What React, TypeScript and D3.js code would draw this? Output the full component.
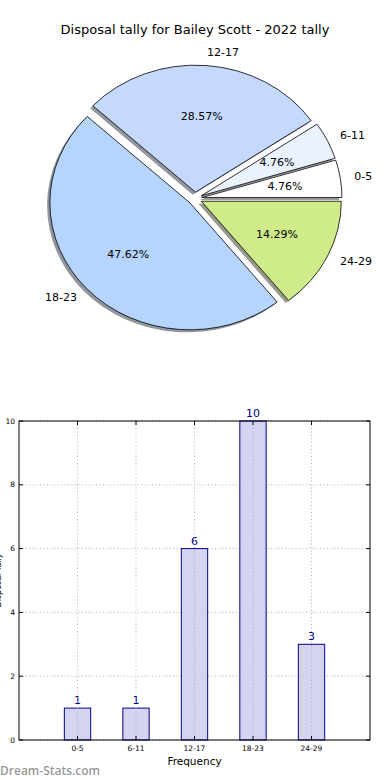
import React from "react";
import * as d3 from "d3";

const categories = ["0-5", "6-11", "12-17", "18-23", "24-29"];
const tally = [1, 1, 6, 10, 3];
const pieColors = ["#ffffff", "#eaf2ff", "#c5d9ff", "#b5d5ff", "#d0eb8a"];
const yTicks = [0, 2, 4, 6, 8, 10];
const title = "Disposal tally for Bailey Scott - 2022 tally";
const xLabel = "Frequency";
const yLabel = "Disposal Tally";
const watermark = "Dream-Stats.com";

const FONT = "'DejaVu Sans', Verdana, sans-serif";

export default function App() {
  const W = 390, H = 780;
  // Pie geometry
  const cx = 195, cy = 198.5, rx = 140, ry = 127, R = 100;
  const explode = 0.05;
  const total = d3.sum(tally);
  const pie = d3.pie<number>().sort(null).startAngle(Math.PI / 2).endAngle(Math.PI / 2 - 2 * Math.PI);
  const arcs = pie(tally);
  const arcGen = d3.arc<d3.PieArcDatum<number>>().innerRadius(0).outerRadius(R);
  const sx = rx / R, sy = ry / R;

  // Bar geometry
  const left = 19, right = 370, top = 421, bottom = 740;
  const x = d3.scaleLinear().domain([-1, 5]).range([left, right]);
  const y = d3.scaleLinear().domain([0, 10]).range([bottom, top]);
  const bw = 0.45;

  return (
    <svg width={W} height={H} style={{ position: "absolute", left: 0, top: 0, display: "block", background: "#fff" }} fontFamily={FONT}>
      <text x={195} y={34} textAnchor="middle" fontSize={13} fill="#000">{title}</text>
      {arcs.map((a, i) => {
        const mid = Math.PI / 2 - (a.startAngle + a.endAngle) / 2;
        const ox = cx + explode * rx * Math.cos(mid);
        const oy = cy - explode * ry * Math.sin(mid);
        const d = arcGen(a) || "";
        const shColor = d3.rgb(pieColors[i]);
        const shadow = d3.rgb(shColor.r * 0.3, shColor.g * 0.3, shColor.b * 0.3).formatHex();
        const lx = ox + 1.1 * rx * Math.cos(mid);
        const ly = oy - 1.1 * ry * Math.sin(mid);
        const px = ox + 0.6 * rx * Math.cos(mid);
        const py = oy - 0.6 * ry * Math.sin(mid);
        return (
          <g key={categories[i]}>
            <path d={d} transform={`translate(${ox - 0.02 * rx},${oy + 0.02 * ry}) scale(${sx},${sy})`} fill={shadow} opacity={0.55} />
            <path d={d} transform={`translate(${ox},${oy}) scale(${sx},${sy})`} fill={pieColors[i]} stroke="#000" strokeWidth={0.8} vectorEffect="non-scaling-stroke" strokeLinejoin="round" />
            <text x={lx} y={ly} textAnchor={Math.cos(mid) > 0 ? "start" : "end"} dominantBaseline="central" fontSize={11} fill="#000">{categories[i]}</text>
            <text x={px} y={py} textAnchor="middle" dominantBaseline="central" fontSize={11} fill="#000">{((tally[i] / total) * 100).toFixed(2)}%</text>
          </g>
        );
      })}

      {/* Bar chart */}
      <g>
        {yTicks.map((t) => (
          <line key={"gy" + t} x1={left} x2={right} y1={y(t)} y2={y(t)} stroke="#b0b0b0" strokeWidth={1} strokeDasharray="1,2.5" />
        ))}
        {tally.map((v, i) => (
          <g key={"b" + i}>
            <rect x={x(i - bw / 2)} y={y(v)} width={x(bw) - x(0)} height={bottom - y(v)} fill="#ccccee" fillOpacity={0.85} stroke="#00008b" strokeWidth={1} />
            <text x={x(i)} y={y(v) - 4} textAnchor="middle" fontSize={11} fill="#00008b">{v}</text>
          </g>
        ))}
        {categories.map((c, i) => (
          <line key={"gx" + c} x1={x(i)} x2={x(i)} y1={top} y2={bottom} stroke="#b0b0b0" strokeWidth={1} strokeDasharray="1,2.5" />
        ))}
        {yTicks.map((t) => (
          <g key={"ty" + t}>
            <line x1={left} x2={left + 4} y1={y(t)} y2={y(t)} stroke="#000" />
            <line x1={right - 4} x2={right} y1={y(t)} y2={y(t)} stroke="#000" />
            <text x={left - 4} y={y(t)} textAnchor="end" dominantBaseline="central" fontSize={7.5} fill="#000">{t}</text>
          </g>
        ))}
        {categories.map((c, i) => (
          <g key={"tx" + c}>
            <line x1={x(i)} x2={x(i)} y1={bottom} y2={bottom - 4} stroke="#000" />
            <line x1={x(i)} x2={x(i)} y1={top} y2={top + 4} stroke="#000" />
            <text x={x(i)} y={bottom + 11} textAnchor="middle" fontSize={7.5} fill="#000">{c}</text>
          </g>
        ))}
        <rect x={left} y={top} width={right - left} height={bottom - top} fill="none" stroke="#000" strokeWidth={1} />
        <text x={(left + right) / 2} y={765} textAnchor="middle" fontSize={10.5} fill="#000">{xLabel}</text>
        <text transform={`translate(0.5,${(top + bottom) / 2}) rotate(-90)`} textAnchor="middle" fontSize={8} fill="#000">{yLabel}</text>
      </g>
      <text x={0} y={775} fontSize={12} fontWeight={600} fontFamily="'Open Sans', sans-serif" fill="#999">{watermark}</text>
    </svg>
  );
}
